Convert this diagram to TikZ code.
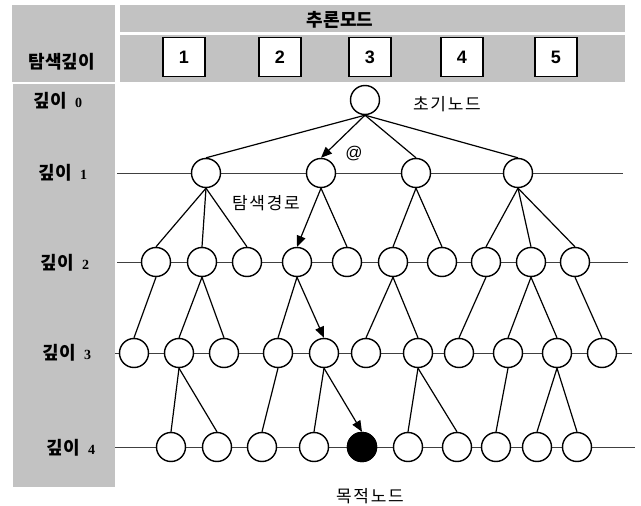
\documentclass[tikz,border=0pt]{standalone}
\usepackage{fontspec}
\setmainfont{Liberation Sans}
\newfontfamily\kr{Noto Sans CJK KR}
\newfontfamily\krsp[LetterSpace=10]{Noto Sans CJK KR}
\newfontfamily\numfont{Liberation Serif}
\usetikzlibrary{arrows.meta}
\tikzset{
  nd/.style={circle, draw, fill=white, line width=1.4pt, minimum size=29pt, inner sep=0pt},
  goal/.style={nd, fill=black},
  edge/.style={line width=1.2pt},
  route/.style={edge, -{Triangle[length=11pt,width=9pt]}},
  levelline/.style={line width=0.7pt, black!75},
  graybar/.style={fill=black!24, draw=none},
  numbox/.style={draw, fill=white, line width=1.5pt, minimum width=42pt, minimum height=39pt, inner sep=0pt, font=\bfseries\fontsize{18}{18}\selectfont},
  headtext/.style={font=\kr\bfseries\fontsize{18}{18}\selectfont},
  note/.style={font=\krsp\fontsize{17}{17}\selectfont}
}
\newcommand{\dnum}[1]{\hspace{8pt}{\numfont\bfseries\fontsize{14}{14}\selectfont #1}}

\begin{document}
\begin{tikzpicture}[x=1pt,y=-1pt]
  \useasboundingbox (0,0) rectangle (641,506);

  % shaded header and depth column
  \fill[graybar] (12,5) rectangle (115,82);
  \fill[graybar] (13,84) rectangle (115,487);
  \fill[graybar] (120,5) rectangle (625,32);
  \fill[graybar] (120,35) rectangle (625,82);

  \node[headtext] (hdepth) at (62,62) {탐색깊이};
  \node[headtext] (hmode) at (340,20) {추론모드};
  \foreach \x [count=\i] in {184,280,370,462,556}
    \node[numbox] (m\i) at (\x,57) {\i};

  % depth labels
  \foreach \d/\lx/\ly in {0/58/101, 1/63/173, 2/65/263, 3/67/353, 4/71/448}
    \node[headtext] (k\d) at (\lx,\ly) {깊이\dnum{\d}};

  % level lines
  \foreach \i/\ly/\xa/\xb in {1/173/117/623, 2/262/117/628, 3/353/115/632, 4/447/115/635} {
    \coordinate (ls\i) at (\xa,\ly);
    \coordinate (le\i) at (\xb,\ly);
    \draw[levelline] (ls\i) -- (le\i);
  }

  % search tree
  \node[nd] (r) at (365,100) {};
  \foreach \x [count=\i] in {206,321,416,518}
    \node[nd] (a\i) at (\x,173) {};
  \foreach \x [count=\i] in {156,202,247,297,347,393,442,486,531,575}
    \node[nd] (b\i) at (\x,262) {};
  \foreach \x [count=\i] in {134,179,224,278,324,366,418,459,508,557,602}
    \node[nd] (c\i) at (\x,353) {};
  \foreach \x [count=\i] in {171,217,262,314,362,408,457,496,537,577}
    \node[nd] (d\i) at (\x,447) {};
  \node[goal] at (d5) {};

  \foreach \p/\c in {r/a1, r/a3, r/a4,
      a1/b1, a1/b2, a1/b3, a2/b5, a3/b6, a3/b7, a4/b8, a4/b9, a4/b10,
      b1/c1, b2/c2, b2/c3, b4/c4, b6/c6, b6/c7, b8/c8, b9/c9, b9/c10, b10/c11,
      c2/d1, c2/d2, c4/d3, c5/d4, c7/d6, c7/d7, c9/d8, c10/d9, c10/d10}
    \draw[edge] (\p.south) -- (\c.north);
  \foreach \p/\c in {r/a2, a2/b4, b4/c5, c5/d5}
    \draw[route] (\p.south) -- (\c.north);

  \node[note] (start) at (447,104) {초기노드};
  \node[font=\fontsize{17}{17}\selectfont] (at) at (354,154) {@};
  \node[note] (way) at (266,203) {탐색경로};
  \node[note] (target) at (370,496) {목적노드};
\end{tikzpicture}
\end{document}
